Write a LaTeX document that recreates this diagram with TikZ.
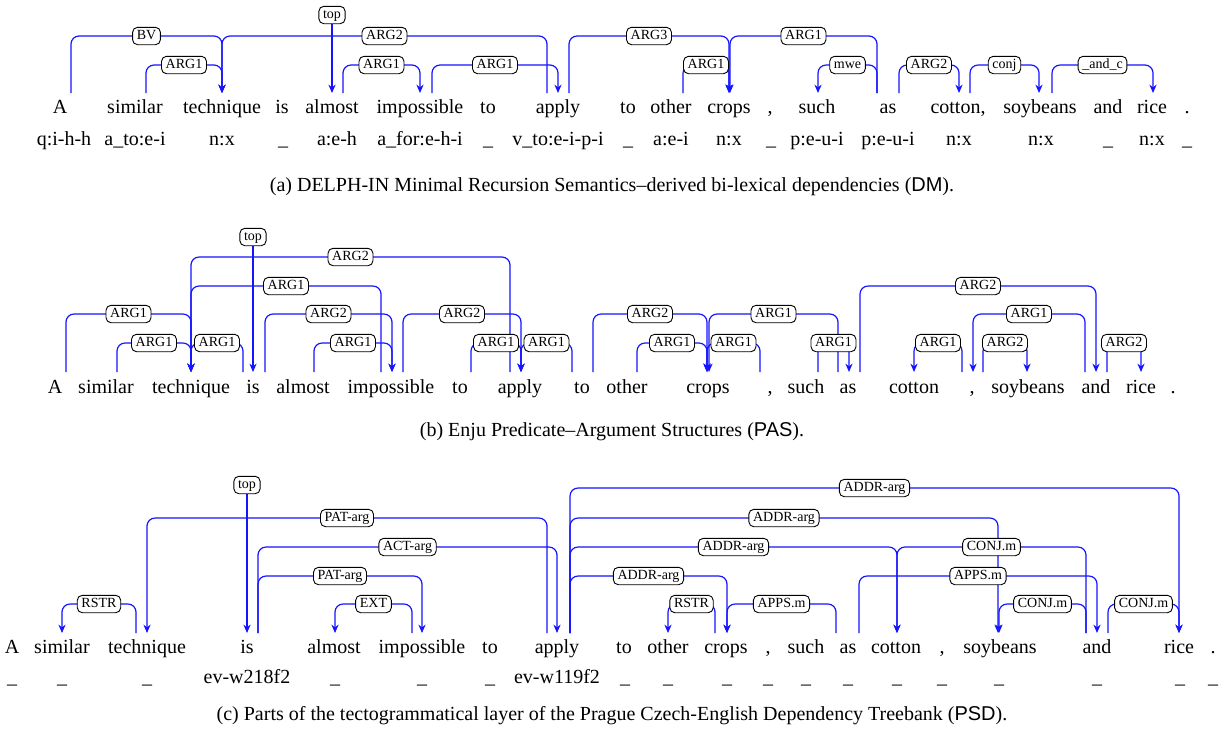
\documentclass[tikz,border=0pt]{standalone}
\usepackage{fontspec}
\setmainfont{Liberation Serif}
\setsansfont{Liberation Sans}
\usetikzlibrary{arrows.meta}
\pgfdeclarelayer{fg}
\pgfsetlayers{main,fg}
\newcount\labcnt
\newcommand\arcbase{93}
\newcommand\depedge[4]{% source x, target x, level y, label
  \draw[deparc] (#1,\arcbase) -- (#1,#3) -- (#2,#3) -- (#2,\arcbase);
  \global\advance\labcnt by 1
  \begin{pgfonlayer}{fg}
  \node[deplab] (lab\the\labcnt) at ({(#1+#2)/2},#3) {#4};
  \end{pgfonlayer}}
\newcommand\toplab[3]{% x, label y, node name
  \begin{pgfonlayer}{fg}
  \node[deplab] (#3) at (#1,#2) {top};
  \end{pgfonlayer}
  \draw[deparc] (#3.south) -- (#1,\arcbase);}
\tikzset{
  deparc/.style={draw={rgb,255:red,20;green,20;blue,255}, line width=0.6pt, rounded corners=4pt,
    -{Stealth[length=4.2pt,width=3.6pt]}},
  deplab/.style={draw=black, line width=0.45pt, fill=white, rounded corners=2.5pt,
    font=\fontsize{7}{8}\selectfont, inner xsep=2.1pt, inner ysep=1.2pt,
    text height=5pt, text depth=1.3pt},
  wd/.style={anchor=base, inner sep=0pt, font=\fontsize{10}{12}\selectfont},
  captext/.style={anchor=base, inner sep=0pt, font=\fontsize{10}{12}\selectfont}
}
\begin{document}
\begin{tikzpicture}[x=0.5pt,y=-0.5pt]
\useasboundingbox (0,0) rectangle (1225,741);
% ================= (a) DM =================
\foreach \n/\x/\t in {a1/60/A, a2/135/similar, a3/222/technique, a4/282/is, a5/332/almost,
  a6/420/impossible, a7/488/to, a8/558/apply, a9/628/to, a10/671/other, a11/729/crops,
  a12/770/{,}, a13/817/such, a14/888/as, a15/958/{cotton,}, a16/1040/soybeans,
  a17/1108/and, a18/1152/rice, a19/1187/.}
  {\node[wd] (\n) at (\x,113) {\t};}
\foreach \n/\x/\t in {b1/64/q:i-h-h, b2/135/a\_to:e-i, b3/222/n:x, b4/283/\_, b5/337/a:e-h,
  b6/420/a\_for:e-h-i, b7/488/\_, b8/558/v\_to:e-i-p-i, b9/628/\_, b10/671/a:e-i,
  b11/729/n:x, b12/771/\_, b13/817/p:e-u-i, b14/888/p:e-u-i, b15/959/n:x, b16/1041/n:x,
  b17/1108/\_, b18/1152/n:x, b19/1187/\_}
  {\node[wd] (\n) at (\x,145) {\t};}
\renewcommand\arcbase{93}
\depedge{71}{222}{36}{BV}
\depedge{146}{222}{65}{ARG1}
\depedge{547}{222}{36}{ARG2}
\toplab{332}{15}{topa}
\depedge{343}{420}{65}{ARG1}
\depedge{432}{558}{65}{ARG1}
\depedge{569}{729}{36}{ARG3}
\depedge{877}{730}{36}{ARG1}
\depedge{683}{729}{65}{ARG1}
\depedge{877}{818}{65}{mwe}
\depedge{899}{959}{65}{ARG2}
\depedge{970}{1039}{65}{conj}
\depedge{1052}{1153}{65}{\_and\_c}
\node[captext] (capa) at (612,191) {(a) DELPH-IN Minimal Recursion Semantics–derived bi-lexical dependencies ({\sffamily DM}).};
% ================= (b) PAS =================
\foreach \n/\x/\t in {c1/55/A, c2/106/similar, c3/191/technique, c4/253/is, c5/303/almost,
  c6/391/impossible, c7/460/to, c8/520/apply, c9/582/to, c10/627/other, c11/708/crops,
  c12/770/{,}, c13/806/such, c14/848/as, c15/914/cotton, c16/972/{,}, c17/1028/soybeans,
  c18/1096/and, c19/1141/rice, c20/1173/.}
  {\node[wd] (\n) at (\x,393) {\t};}
\renewcommand\arcbase{372}
\depedge{510}{191}{257}{ARG2}
\depedge{381}{191}{286}{ARG1}
\depedge{66}{191}{314}{ARG1}
\depedge{117}{191}{343}{ARG1}
\depedge{243}{191}{343}{ARG1}
\toplab{253}{237}{topb}
\depedge{265}{392}{314}{ARG2}
\depedge{314}{392}{343}{ARG1}
\depedge{403}{521}{314}{ARG2}
\depedge{471}{521}{343}{ARG1}
\depedge{572}{521}{343}{ARG1}
\depedge{593}{707}{314}{ARG2}
\depedge{637}{707}{343}{ARG1}
\depedge{760}{707}{343}{ARG1}
\depedge{838}{709}{314}{ARG1}
\depedge{818}{849}{343}{ARG1}
\depedge{860}{1096}{286}{ARG2}
\depedge{962}{914}{343}{ARG1}
\depedge{1085}{973}{314}{ARG1}
\depedge{983}{1027}{343}{ARG2}
\depedge{1107}{1141}{343}{ARG2}
\node[captext] (capb) at (612,436) {(b) Enju Predicate–Argument Structures ({\sffamily PAS}).};
% ================= (c) PSD =================
\foreach \n/\x/\t in {d1/12/A, d2/62/similar, d3/147/technique, d4/247/is, d5/334/almost,
  d6/422/impossible, d7/490/to, d8/557/apply, d9/624/to, d10/668/other, d11/726/crops,
  d12/768/{,}, d13/806/such, d14/848/as, d15/896/cotton, d16/942/{,}, d17/1000/soybeans,
  d18/1097/and, d19/1179/rice, d20/1213/.}
  {\node[wd] (\n) at (\x,653) {\t};}
\foreach \n/\x/\t in {e1/12/\_, e2/62/\_, e3/147/\_, e4/247/ev-w218f2, e5/335/\_, e6/422/\_,
  e7/490/\_, e8/557/ev-w119f2, e9/625/\_, e10/668/\_, e11/727/\_, e12/768/\_, e13/806/\_,
  e14/848/\_, e15/897/\_, e16/942/\_, e17/999/\_, e18/1097/\_, e19/1180/\_, e20/1213/\_}
  {\node[wd] (\n) at (\x,683) {\t};}
\renewcommand\arcbase{633}
\depedge{136}{62}{604}{RSTR}
\depedge{547}{147}{518}{PAT-arg}
\toplab{247}{485}{topc}
\depedge{258}{557}{547}{ACT-arg}
\depedge{258}{422}{576}{PAT-arg}
\depedge{412}{335}{604}{EXT}
\depedge{570}{1179}{488}{ADDR-arg}
\depedge{570}{998}{518}{ADDR-arg}
\depedge{570}{897}{547}{ADDR-arg}
\depedge{570}{727}{576}{ADDR-arg}
\depedge{715}{668}{604}{RSTR}
\depedge{836}{727}{604}{APPS.m}
\depedge{1086}{897}{547}{CONJ.m}
\depedge{859}{1097}{576}{APPS.m}
\depedge{1086}{999}{604}{CONJ.m}
\depedge{1108}{1179}{604}{CONJ.m}
\node[captext] (capc) at (612,720) {(c) Parts of the tectogrammatical layer of the Prague Czech-English Dependency Treebank ({\sffamily PSD}).};
\end{tikzpicture}
\end{document}
